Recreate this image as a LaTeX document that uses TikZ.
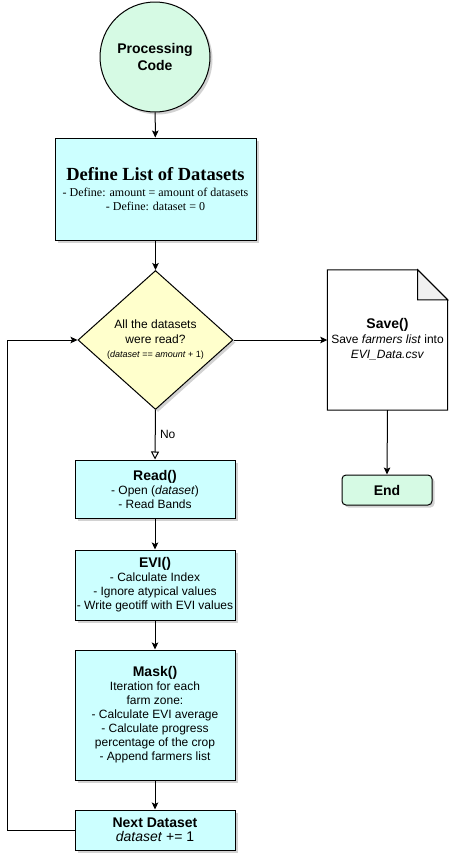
\documentclass[tikz,border=0pt]{standalone}
\usepackage{fontspec}
\setmainfont{Liberation Sans}
\newfontfamily\timesf{Liberation Serif}
\usetikzlibrary{shapes.geometric,arrows.meta,shadows}
\definecolor{boxcyan}{RGB}{204,255,255}
\definecolor{diayel}{RGB}{255,255,204}
\definecolor{mint}{RGB}{214,250,228}
\definecolor{foldgray}{RGB}{240,240,240}
\tikzset{
  shd/.style={drop shadow={shadow xshift=2.5pt,shadow yshift=-2.5pt,opacity=0.35,fill=gray}},
  procbox/.style={draw=black,line width=1pt,fill=boxcyan,shd,rectangle,inner sep=0pt,align=center,font=\fontsize{12}{14}\selectfont},
  ttl/.style={font=\fontsize{14}{16}\selectfont\bfseries},
  arr/.style={draw=black,line width=1pt,-{Stealth[length=7pt,width=6.5pt,inset=1.5pt]}},
  openarr/.style={draw=black,line width=1pt,-{Triangle[open,length=8pt,width=8pt,fill=white]}},
  line/.style={draw=black,line width=1pt}
}
\newcommand{\bttl}[1]{{\fontsize{14}{16}\selectfont\bfseries #1}}
\begin{document}
\begin{tikzpicture}[x=1pt,y=-1pt]
\fill[white] (0,0) rectangle (448,854);

% start circle
\node[circle,draw=black,line width=1pt,fill=mint,shd,minimum size=110pt,inner sep=0pt,align=center,font=\fontsize{14}{17}\selectfont\bfseries] (start) at (155,57) {Processing\\Code};

% define box
\node[procbox,minimum width=201pt,minimum height=102pt] (define) at (155.5,189)
  {{\timesf\fontsize{18.5}{20}\selectfont\bfseries Define List of Datasets}\\[2pt]
   {\timesf\fontsize{12}{15}\selectfont - Define: amount = amount of datasets}\\[0pt]
   {\timesf\fontsize{12}{15}\selectfont - Define: dataset = 0}};

% decision
\node[diamond,draw=black,line width=1pt,fill=diayel,shd,minimum width=155pt,minimum height=139pt,inner sep=0pt,aspect=1.1,align=center,font=\fontsize{12}{15}\selectfont] (dia) at (155.5,340)
  {All the datasets\\were read?\\[-1pt]{\fontsize{9}{10}\selectfont(\textit{dataset} == \textit{amount} + 1)}};

% save document
\node[rectangle,minimum width=120pt,minimum height=140pt,inner sep=0pt] (save) at (387.5,340) {};
\coordinate (foldA) at ([xshift=-30pt]save.north east);
\coordinate (foldB) at ([yshift=-30pt]save.north east);
\draw[line,fill=white] (save.south west) -- (save.north west) -- (foldA) -- (foldB) -- (save.south east) -- cycle;
\draw[line,fill=foldgray,line join=miter] (foldA) -- (foldB) -- (foldA |- foldB) -- cycle;
\node[rectangle,inner sep=0pt,align=center,font=\fontsize{12}{15}\selectfont] (savetext) at ([yshift=1pt]save.center)
  {\bttl{Save()}\\Save \textit{farmers list} into\\\textit{EVI\_Data.csv}};

% end
\node[draw=black,line width=1pt,fill=mint,shd,rounded corners=4pt,minimum width=90pt,minimum height=30pt,inner sep=0pt,ttl] (end) at (387,490) {End};

% process boxes
\node[procbox,minimum width=160pt,minimum height=58pt] (read) at (155,489)
  {\bttl{Read()}\\- Open (\textit{dataset})\\- Read Bands};
\node[procbox,minimum width=160pt,minimum height=70pt] (evi) at (155,585)
  {\bttl{EVI()}\\- Calculate Index\\- Ignore atypical values\\- Write geotiff with EVI values};
\node[procbox,minimum width=160pt,minimum height=130pt] (mask) at (155,715)
  {\bttl{Mask()}\\Iteration for each\\farm zone:\\- Calculate EVI average\\- Calculate progress\\percentage of the crop\\- Append farmers list};
\node[procbox,minimum width=160pt,minimum height=40pt] (next) at (155,830)
  {\bttl{Next Dataset}\\{\fontsize{14}{16}\selectfont\textit{dataset} += 1}};

% connectors
\draw[arr] (start) -- (define);
\draw[arr] (define) -- (dia.north);
\draw[arr] (dia.east) -- (save.west);
\draw[arr] (save.south) -- (end.north);
\draw[openarr] (dia.south) -- node[right,pos=0.5,xshift=1pt,font=\fontsize{12}{14}\selectfont] (no) {No} (read.north);
\draw[arr] (read) -- (evi);
\draw[arr] (evi) -- (mask);
\draw[arr] (mask) -- (next);
\draw[arr] (next.west) -- ++(-67,0) |- (dia.west);

\pgfresetboundingbox
\useasboundingbox (0,0) rectangle (448,854);
\end{tikzpicture}
\end{document}
